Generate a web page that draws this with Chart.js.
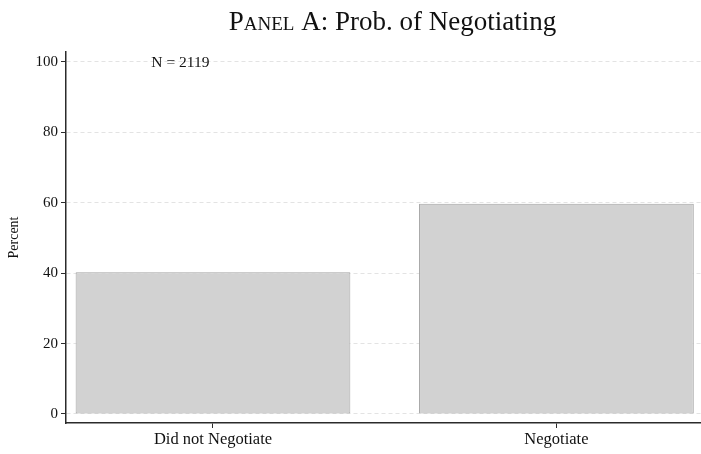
<!DOCTYPE html>
<html>
<head>
<meta charset="utf-8">
<script src="https://cdn.jsdelivr.net/npm/chart.js@4/dist/chart.umd.min.js"></script>
<style>
  html, body { margin: 0; padding: 0; background: #fff; }
  #wrap { width: 701px; height: 454px; }
</style>
</head>
<body>
<div id="wrap"><canvas id="barChart"></canvas></div>
<script>
var categories = ["Did not Negotiate", "Negotiate"];
var percents = [40.3, 59.7];
var yTicks = [0, 20, 40, 60, 80, 100];
var sampleNote = "N = 2119";

var serif = "'Liberation Serif', 'Times New Roman', serif";
var axisDark = "#2b2b2b";

// title in small caps for "Panel", plus the N note
var annotations = {
  id: "annotations",
  afterDraw: function(chart) {
    var ctx = chart.ctx;
    var x = chart.scales.x, y = chart.scales.y;
    ctx.save();
    ctx.fillStyle = "#111";
    ctx.textBaseline = "alphabetic";

    var big = "27px " + serif;
    var parts = [
      { t: "Panel", caps: true },
      { t: " A: Prob. of Negotiating", caps: false }
    ];
    var widths = parts.map(function(p) {
      ctx.font = big;
      ctx.fontVariantCaps = p.caps ? "small-caps" : "normal";
      return ctx.measureText(p.t).width;
    });
    var total = widths[0] + widths[1];
    var cx = (chart.chartArea.left + chart.chartArea.right) / 2 + 9;
    var px = cx - total / 2;
    ctx.textAlign = "left";
    parts.forEach(function(p, i) {
      ctx.font = big;
      ctx.fontVariantCaps = p.caps ? "small-caps" : "normal";
      ctx.fillText(p.t, px, 30);
      px += widths[i];
    });
    ctx.fontVariantCaps = "normal";

    ctx.font = "15.5px " + serif;
    ctx.textAlign = "center";
    ctx.textBaseline = "middle";
    ctx.fillText(sampleNote, x.getPixelForValue(-0.095), y.getPixelForValue(100) + 1);
    ctx.restore();
  }
};

new Chart(document.getElementById("barChart"), {
  type: "bar",
  data: {
    datasets: [{
      data: percents.map(function(v, i) { return { x: i, y: v }; }),
      backgroundColor: "#d2d2d2",
      borderColor: "#a3a3a3",
      borderWidth: 1,
      borderSkipped: false,
      categoryPercentage: 1,
      barPercentage: 0.8
    }]
  },
  options: {
    responsive: true,
    maintainAspectRatio: false,
    animation: false,
    layout: { padding: { top: 52, right: 0, left: 0, bottom: 0 } },
    plugins: { legend: { display: false }, tooltip: { enabled: false }, title: { display: false } },
    scales: {
      x: {
        type: "linear",
        offset: false,
        min: -0.428,
        max: 1.421,
        afterBuildTicks: function(s) { s.ticks = categories.map(function(c, i) { return { value: i }; }); },
        afterFit: function(s) { s.height = 31; },
        ticks: {
          callback: function(v) { return categories[v]; },
          font: { family: serif, size: 16.5 },
          color: "#111",
          padding: 2,
          maxRotation: 0
        },
        grid: { offset: false, drawOnChartArea: false, drawTicks: true, tickLength: 5, tickColor: axisDark, tickWidth: 1 },
        border: { color: axisDark, width: 1.5 }
      },
      y: {
        min: -2.56,
        max: 102.84,
        z: 1,
        afterBuildTicks: function(s) { s.ticks = yTicks.map(function(v) { return { value: v }; }); },
        afterFit: function(s) { s.width = 66; },
        ticks: {
          font: { family: serif, size: 15 },
          color: "#111",
          padding: 3
        },
        title: {
          display: true,
          text: "Percent",
          font: { family: serif, size: 14 },
          color: "#111",
          padding: { top: 6, bottom: 10 }
        },
        grid: { color: "rgba(0,0,0,0.11)", lineWidth: 1, tickLength: 5, tickColor: axisDark, tickWidth: 1 },
        border: { color: axisDark, width: 1.5, dash: [4, 3] }
      }
    }
  },
  plugins: [annotations]
});
</script>
</body>
</html>
